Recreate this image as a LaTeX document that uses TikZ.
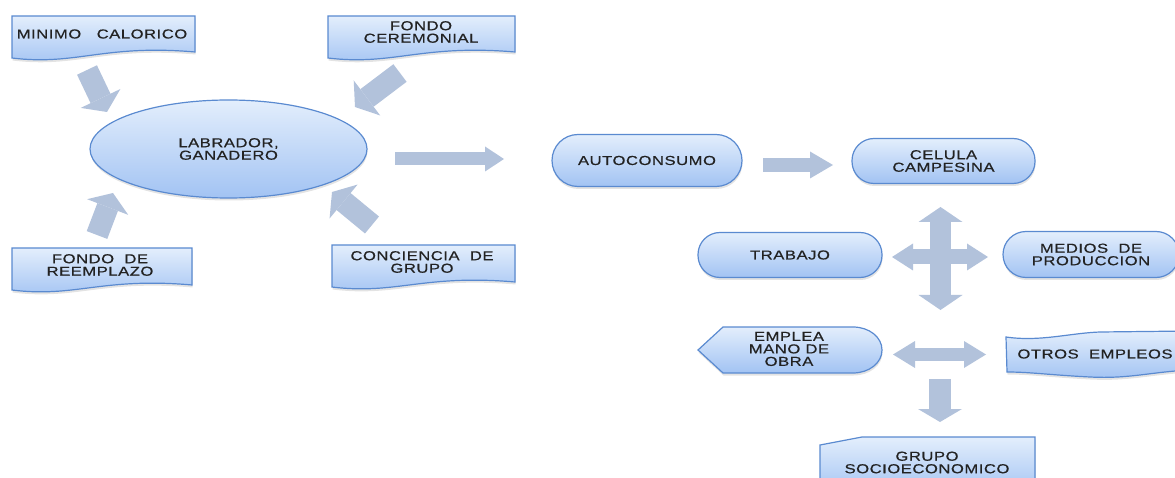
\documentclass[tikz,border=0pt]{standalone}
\usepackage{fontspec}
\newfontfamily\diafont{Liberation Sans}[FakeStretch=1.28,LetterSpace=4,FakeBold=0.5]
\usetikzlibrary{arrows.meta,shapes.geometric,shadows}
\definecolor{bordc}{HTML}{5A8AD0}
\definecolor{topc}{HTML}{E3EEFC}
\definecolor{botc}{HTML}{A2C3F3}
\definecolor{arrc}{HTML}{B2C2DB}
\definecolor{txtc}{HTML}{222222}
\tikzset{
  boxshape/.style={draw=bordc, line width=1.2pt, top color=topc, bottom color=botc,
    drop shadow={shadow xshift=0.5pt, shadow yshift=-2.5pt, opacity=0.22}},
  lbl/.style={font=\diafont\fontsize{13}{12.5}\selectfont, text=txtc, align=center, inner sep=0pt},
  pill/.style={boxshape, lbl, rectangle, rounded corners=#1},
  barrow/.style n args={3}{draw=arrc, line width=#1, line cap=butt,
    -{Triangle[width=#2,length=#3,line width=0pt]}},
  bbarrow/.style n args={3}{draw=arrc, line width=#1, line cap=butt,
    {Triangle[width=#2,length=#3,line width=0pt]}-{Triangle[width=#2,length=#3,line width=0pt]}}
}
\begin{document}
\begin{tikzpicture}[x=1pt,y=-1pt]
\useasboundingbox (0,0) rectangle (1175,478);

% ---- document shapes (left part)
\path[boxshape] (12,16) -- (195,16) -- (195,52) .. controls (103.5,44) and (76,66) .. (12,58) -- cycle;
\node[lbl] (minimo) at (102,34) {MINIMO~~~CALORICO};

\path[boxshape] (328,16) -- (515,16) -- (515,52) .. controls (421.5,44) and (393,66) .. (328,58) -- cycle;
\node[lbl] (ceremonial) at (421,32) {FONDO\\CEREMONIAL};

\path[boxshape] (12,248) -- (192,248) -- (192,285) .. controls (102,277) and (75,298) .. (12,290) -- cycle;
\node[lbl] (reemplazo) at (100,265) {FONDO~~DE\\REEMPLAZO};

\path[boxshape] (332,245) -- (515,245) -- (515,282) .. controls (423.5,274) and (396,295) .. (332,287) -- cycle;
\node[lbl] (conciencia) at (422,262) {CONCIENCIA~~DE\\GRUPO};

% ---- ellipse
\node[boxshape, lbl, ellipse, minimum width=277pt, minimum height=98pt] (labrador) at (228.5,149) {LABRADOR,\\GANADERO};

% ---- pills
\node[pill=26pt, minimum width=190pt, minimum height=52pt] (auto) at (647,160.5) {AUTOCONSUMO};
\node[pill=22pt, minimum width=183pt, minimum height=45pt] (celula) at (943.5,161) {CELULA\\CAMPESINA};
\node[pill=22pt, minimum width=184pt, minimum height=45pt] (trabajo) at (790,255) {TRABAJO};
\node[pill=23pt, minimum width=176pt, minimum height=46pt] (medios) at (1091,254.5) {MEDIOS~~DE\\PRODUCCION};

% ---- emplea (display shape)
\path[boxshape] (698,350) -- (723,327) -- (853,327) .. controls (869,327) and (882,337) .. (882,350)
   .. controls (882,363) and (869,373) .. (853,373) -- (723,373) -- cycle;
\node[lbl] (emplea) at (789,349) {EMPLEA\\MANO DE\\OBRA};

% ---- otros (tape shape)
\path[boxshape] (1006,337) .. controls (1040,342) and (1070,333) .. (1100,332) -- (1190,331)
   -- (1190,370) .. controls (1150,372) and (1130,379) .. (1090,377)
   .. controls (1050,375) and (1030,372) .. (1007,372) -- cycle;
\node[lbl] (otros) at (1095,354) {OTROS~~EMPLEOS};

% ---- grupo (snipped corner)
\path[boxshape] (820,445) -- (862,437) -- (1035,437) -- (1035,495) -- (820,495) -- cycle;
\node[lbl] (grupo) at (927,462.5) {GRUPO\\SOCIOECONOMICO};

% ---- block arrows
\coordinate (a1s) at (87,70);   \coordinate (a1e) at (107,112);
\coordinate (a2s) at (400,73);  \coordinate (a2e) at (355,107);
\coordinate (a3s) at (97,235);  \coordinate (a3e) at (113,193);
\coordinate (a4s) at (372,225); \coordinate (a4e) at (332,192);
\draw[barrow={22pt}{44pt}{15pt}] (a1s) -- (a1e);
\draw[barrow={22pt}{44pt}{15pt}] (a2s) -- (a2e);
\draw[barrow={22pt}{44pt}{15pt}] (a3s) -- (a3e);
\draw[barrow={22pt}{44pt}{15pt}] (a4s) -- (a4e);

\coordinate (h1s) at (395,159); \coordinate (h1e) at (504,159);
\draw[barrow={13pt}{25pt}{19pt}] (h1s) -- (h1e);
\coordinate (h2s) at (763,165); \coordinate (h2e) at (833,165);
\draw[barrow={14pt}{27pt}{23pt}] (h2s) -- (h2e);

% four-way arrow
\coordinate (vt) at (940.5,207); \coordinate (vb) at (940.5,310);
\coordinate (hl) at (892,257);   \coordinate (hr) at (988,257);
\draw[bbarrow={21pt}{44pt}{15pt}] (vt) -- (vb);
\draw[bbarrow={15pt}{27pt}{21pt}] (hl) -- (hr);

% double arrow
\coordinate (dl) at (893,354.5); \coordinate (dr) at (986,354.5);
\draw[bbarrow={13pt}{27pt}{22pt}] (dl) -- (dr);

% down arrow
\coordinate (ds) at (940,379); \coordinate (de) at (940,422);
\draw[barrow={22pt}{44pt}{13pt}] (ds) -- (de);
\end{tikzpicture}
\end{document}
